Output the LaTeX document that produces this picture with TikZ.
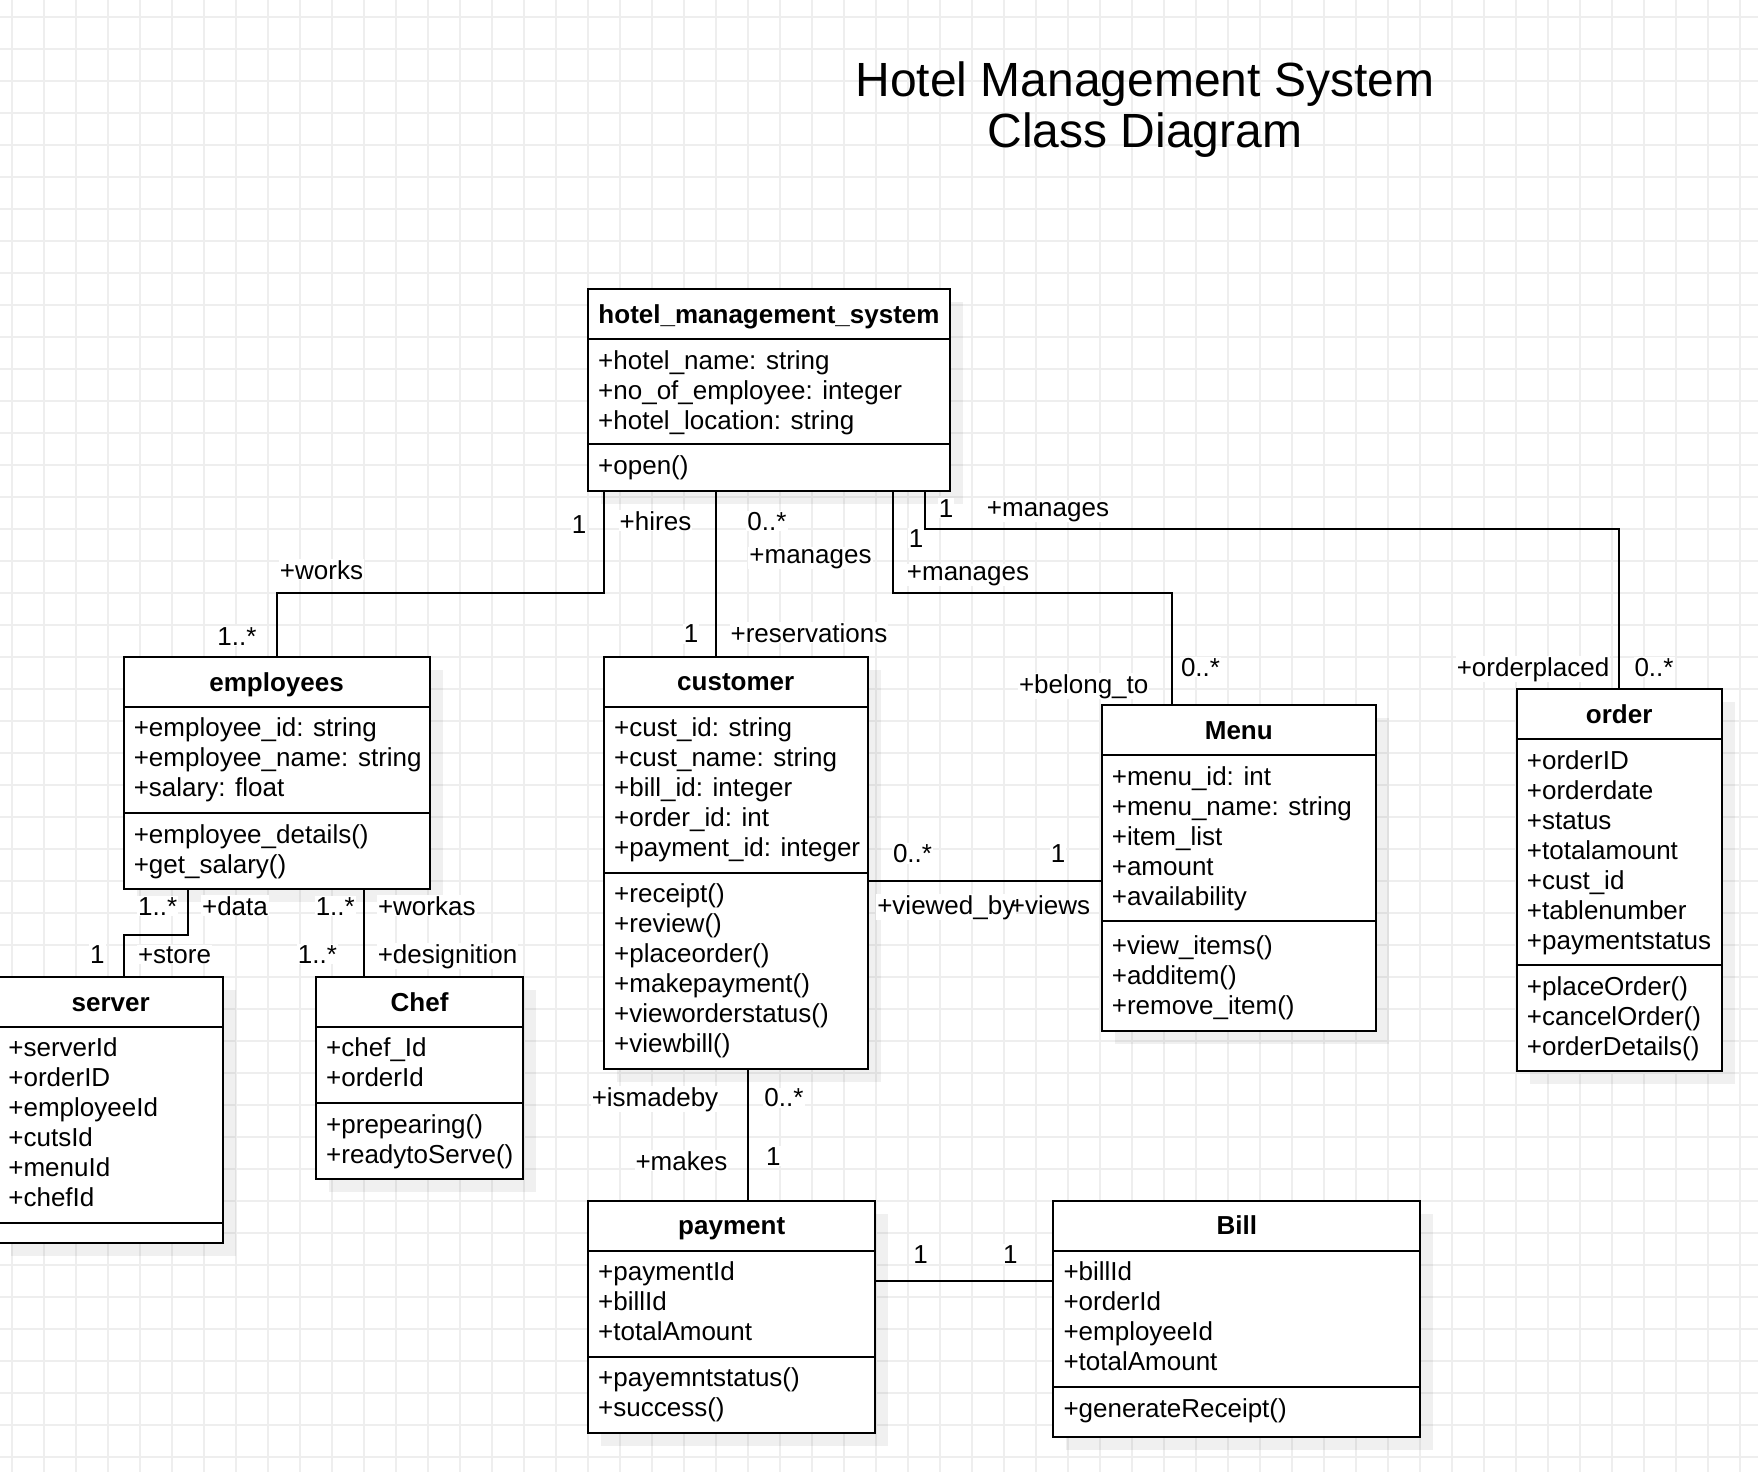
\documentclass[tikz,border=0pt]{standalone}
\usepackage{fontspec}
\setmainfont{Liberation Sans}
\usetikzlibrary{shadows}
\definecolor{gridgray}{RGB}{238,238,238}

\begin{document}
\begin{tikzpicture}[x=1pt,y=-1pt,
  gridline/.style={gridgray, line width=2pt},
  box/.style={draw, line width=2pt, fill=white, anchor=north west, inner sep=0pt, outer sep=0pt,
    drop shadow={shadow xshift=13pt, shadow yshift=-13pt, fill=black, opacity=0.06}},
  sep/.style={line width=2pt},
  assoc/.style={line width=2pt},
  cname/.style={anchor=base, inner sep=0pt, font=\fontsize{26pt}{30pt}\selectfont\bfseries},
  member/.style={anchor=base west, inner sep=0pt, font=\fontsize{26pt}{30pt}\selectfont},
  lbl/.style={anchor=base, fill=white, inner sep=1pt, font=\fontsize{26pt}{30pt}\selectfont},
  heading/.style={anchor=base, inner sep=0pt, font=\fontsize{48pt}{50pt}\selectfont}]

% background and grid
\path[use as bounding box, fill=white] (0,0) rectangle (1758,1472);
\foreach \i in {0,...,54}
  \draw[gridline] ({12+32*\i},0) -- ({12+32*\i},1472);
\foreach \j in {0,...,45}
  \draw[gridline] (0,{16.7+32*\j}) -- (1758,{16.7+32*\j});

% title
\node[heading] (title-a) at (1145,96.7) {Hotel Management System};
\node[heading] (title-b) at (1145,147.3) {Class Diagram};

% hotel_management_system
\node[box, minimum width=362pt, minimum height=201.7pt] (hms) at (588,289) {};
\draw[sep] ([yshift=-50pt]hms.north west) -- ([yshift=-50pt]hms.north east);
\draw[sep] ([yshift=-155.3pt]hms.north west) -- ([yshift=-155.3pt]hms.north east);
\node[cname] (hms-t) at ([yshift=-34pt]hms.north) {hotel\_management\_system};
\foreach \t [count=\i] in {+hotel\_name: string, +no\_of\_employee: integer, +hotel\_location: string}
  \node[member] (hms-a\i) at (598,{339+30*\i}) {\t};
\node[member] (hms-m1) at (598,474.3) {+open()};

% employees
\node[box, minimum width=306pt, minimum height=232pt] (emp) at (123.6,657) {};
\draw[sep] ([yshift=-49.7pt]emp.north west) -- ([yshift=-49.7pt]emp.north east);
\draw[sep] ([yshift=-156.3pt]emp.north west) -- ([yshift=-156.3pt]emp.north east);
\node[cname] (emp-t) at ([yshift=-34pt]emp.north) {employees};
\foreach \t [count=\i] in {+employee\_id: string, +employee\_name: string, +salary: float}
  \node[member] (emp-a\i) at (133.6,{706.7+30*\i}) {\t};
\foreach \t [count=\i] in {+employee\_details(), +get\_salary()}
  \node[member] (emp-m\i) at (133.6,{813.3+30*\i}) {\t};

% customer
\node[box, minimum width=263.5pt, minimum height=412.3pt] (cust) at (604,656.7) {};
\draw[sep] ([yshift=-50pt]cust.north west) -- ([yshift=-50pt]cust.north east);
\draw[sep] ([yshift=-216pt]cust.north west) -- ([yshift=-216pt]cust.north east);
\node[cname] (cust-t) at ([yshift=-34pt]cust.north) {customer};
\foreach \t [count=\i] in {+cust\_id: string, +cust\_name: string, +bill\_id: integer, +order\_id: int, +payment\_id: integer}
  \node[member] (cust-a\i) at (614,{706.7+30*\i}) {\t};
\foreach \t [count=\i] in {+receipt(), +review(), +placeorder(), +makepayment(), +vieworderstatus(), +viewbill()}
  \node[member] (cust-m\i) at (614,{872.7+30*\i}) {\t};

% Menu
\node[box, minimum width=274.4pt, minimum height=325.7pt] (menu) at (1101.6,705) {};
\draw[sep] ([yshift=-50pt]menu.north west) -- ([yshift=-50pt]menu.north east);
\draw[sep] ([yshift=-216pt]menu.north west) -- ([yshift=-216pt]menu.north east);
\node[cname] (menu-t) at ([yshift=-34pt]menu.north) {Menu};
\foreach \t [count=\i] in {+menu\_id: int, +menu\_name: string, +item\_list, +amount, +availability}
  \node[member] (menu-a\i) at (1111.6,{755+30*\i}) {\t};
\foreach \t [count=\i] in {+view\_items(), +additem(), +remove\_item()}
  \node[member] (menu-m\i) at (1111.6,{924.7+30*\i}) {\t};

% order
\node[box, minimum width=205pt, minimum height=382pt] (order) at (1516.7,689) {};
\draw[sep] ([yshift=-50pt]order.north west) -- ([yshift=-50pt]order.north east);
\draw[sep] ([yshift=-276pt]order.north west) -- ([yshift=-276pt]order.north east);
\node[cname] (order-t) at ([yshift=-34pt]order.north) {order};
\foreach \t [count=\i] in {+orderID, +orderdate, +status, +totalamount, +cust\_id, +tablenumber, +paymentstatus}
  \node[member] (order-a\i) at (1526.7,{739+30*\i}) {\t};
\foreach \t [count=\i] in {+placeOrder(), +cancelOrder(), +orderDetails()}
  \node[member] (order-m\i) at (1526.7,{965+30*\i}) {\t};

% server
\node[box, minimum width=225pt, minimum height=265.7pt] (srv) at (-1.8,977) {};
\draw[sep] ([yshift=-49.7pt]srv.north west) -- ([yshift=-49.7pt]srv.north east);
\draw[sep] ([yshift=-245.7pt]srv.north west) -- ([yshift=-245.7pt]srv.north east);
\node[cname] (srv-t) at ([yshift=-34pt]srv.north) {server};
\foreach \t [count=\i] in {+serverId, +orderID, +employeeId, +cutsId, +menuId, +chefId}
  \node[member] (srv-a\i) at (8.2,{1026.7+30*\i}) {\t};

% Chef
\node[box, minimum width=207.2pt, minimum height=202pt] (chef) at (316,977) {};
\draw[sep] ([yshift=-49.7pt]chef.north west) -- ([yshift=-49.7pt]chef.north east);
\draw[sep] ([yshift=-126.3pt]chef.north west) -- ([yshift=-126.3pt]chef.north east);
\node[cname] (chef-t) at ([yshift=-34pt]chef.north) {Chef};
\foreach \t [count=\i] in {+chef\_Id, +orderId}
  \node[member] (chef-a\i) at (326,{1026.7+30*\i}) {\t};
\foreach \t [count=\i] in {+prepearing(), +readytoServe()}
  \node[member] (chef-m\i) at (326,{1103.3+30*\i}) {\t};

% payment
\node[box, minimum width=287.4pt, minimum height=232pt] (pay) at (588,1200.7) {};
\draw[sep] ([yshift=-50pt]pay.north west) -- ([yshift=-50pt]pay.north east);
\draw[sep] ([yshift=-156pt]pay.north west) -- ([yshift=-156pt]pay.north east);
\node[cname] (pay-t) at ([yshift=-34pt]pay.north) {payment};
\foreach \t [count=\i] in {+paymentId, +billId, +totalAmount}
  \node[member] (pay-a\i) at (598,{1250.7+30*\i}) {\t};
\foreach \t [count=\i] in {+payemntstatus(), +success()}
  \node[member] (pay-m\i) at (598,{1356.7+30*\i}) {\t};

% Bill
\node[box, minimum width=367.1pt, minimum height=236pt] (bill) at (1053.3,1200.7) {};
\draw[sep] ([yshift=-50pt]bill.north west) -- ([yshift=-50pt]bill.north east);
\draw[sep] ([yshift=-186.3pt]bill.north west) -- ([yshift=-186.3pt]bill.north east);
\node[cname] (bill-t) at ([yshift=-34pt]bill.north) {Bill};
\foreach \t [count=\i] in {+billId, +orderId, +employeeId, +totalAmount}
  \node[member] (bill-a\i) at (1063.3,{1250.7+30*\i}) {\t};
\node[member] (bill-m1) at (1063.3,1417) {+generateReceipt()};

% associations
\coordinate (hire-bend) at (603.7,592.7);
\draw[assoc] (hms.south -| hire-bend) -- (hire-bend) -| (emp.north);
\coordinate (resv) at (716,600);
\draw[assoc] (hms.south -| resv) -- (cust.north -| resv);
\coordinate (menu-bend) at (892.7,592.5);
\coordinate (menu-drop) at (1172.3,592.5);
\draw[assoc] (hms.south -| menu-bend) -- (menu-bend) -- (menu-drop) -- (menu.north -| menu-drop);
\coordinate (ord-bend) at (925,528.7);
\draw[assoc] (hms.south -| ord-bend) -- (ord-bend) -| (order.north);
\coordinate (view) at (900,881);
\draw[assoc] (cust.east |- view) -- (menu.west |- view);
\coordinate (data-bend) at (187.9,935);
\coordinate (store-drop) at (123.6,935);
\draw[assoc] (emp.south -| data-bend) -- (data-bend) -- (store-drop) -- (srv.north -| store-drop);
\coordinate (work) at (363.6,930);
\draw[assoc] (emp.south -| work) -- (chef.north -| work);
\coordinate (made) at (748,1130);
\draw[assoc] (cust.south -| made) -- (pay.north -| made);
\coordinate (bill-link) at (960,1280.7);
\draw[assoc] (pay.east |- bill-link) -- (bill.west |- bill-link);

% role names and multiplicities
\node[lbl] (l-hire1) at (579,533) {1};
\node[lbl] (l-hire2) at (655.5,530) {+hires};
\node[lbl] (l-work1) at (321.5,579) {+works};
\node[lbl] (l-work2) at (237,645) {1..*};
\node[lbl] (l-resv1) at (767,530) {0..*};
\node[lbl] (l-resv2) at (810.5,563) {+manages};
\node[lbl] (l-resv3) at (691,642.7) {1};
\node[lbl] (l-resv4) at (809,642) {+reservations};
\node[lbl] (l-ord1) at (946,517) {1};
\node[lbl] (l-ord2) at (1048,516) {+manages};
\node[lbl] (l-ord3) at (1533,676) {+orderplaced};
\node[lbl] (l-ord4) at (1654,676) {0..*};
\node[lbl] (l-menu1) at (916,547) {1};
\node[lbl] (l-menu2) at (968,580) {+manages};
\node[lbl] (l-menu3) at (1200.5,676) {0..*};
\node[lbl] (l-menu4) at (1083.7,693) {+belong\_to};
\node[lbl] (l-view1) at (912.5,862.3) {0..*};
\node[lbl] (l-view2) at (1058,862.3) {1};
\node[lbl] (l-view3) at (946.3,914) {+viewed\_by};
\node[lbl, fill=none] (l-view4) at (1050,914) {+views};
\node[lbl] (l-data1) at (157.7,915) {1..*};
\node[lbl] (l-data2) at (235,915) {+data};
\node[lbl] (l-data3) at (97.3,963) {1};
\node[lbl] (l-data4) at (174.5,963) {+store};
\node[lbl] (l-chef1) at (335.3,915) {1..*};
\node[lbl] (l-chef2) at (426.8,915) {+workas};
\node[lbl] (l-chef3) at (317.5,963) {1..*};
\node[lbl] (l-chef4) at (447.5,963) {+designition};
\node[lbl] (l-pay1) at (655,1106) {+ismadeby};
\node[lbl] (l-pay2) at (784,1106.7) {0..*};
\node[lbl] (l-pay3) at (681.4,1170) {+makes};
\node[lbl] (l-pay4) at (773.4,1165) {1};
\node[lbl] (l-bill1) at (920.6,1263) {1};
\node[lbl] (l-bill2) at (1010.4,1263) {1};
\end{tikzpicture}
\end{document}
